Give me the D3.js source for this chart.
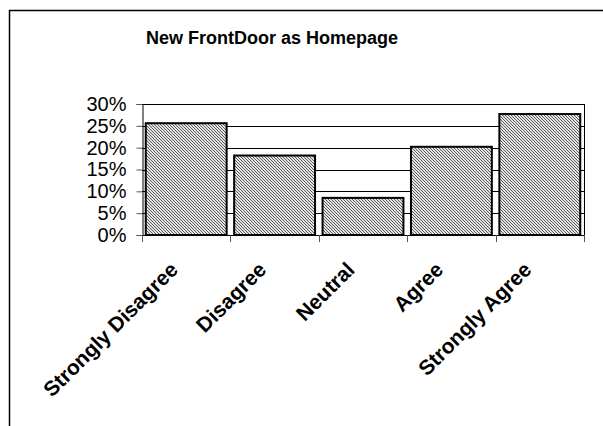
<!DOCTYPE html>
<html>
<head>
<meta charset="utf-8">
<script src="https://cdn.jsdelivr.net/npm/d3@7"></script>
<style>
  html, body { margin: 0; padding: 0; background: #fff; }
  svg { display: block; }
  text { font-family: Arial, "Liberation Sans", sans-serif; fill: #000; }
</style>
</head>
<body>
<svg id="chart" width="603" height="426"></svg>
<script>
// Survey responses: share of respondents per answer
const chartTitle = "New FrontDoor as Homepage";
const categories = ["Strongly Disagree", "Disagree", "Neutral", "Agree", "Strongly Agree"];
const shares = [0.256, 0.182, 0.085, 0.202, 0.277];
const yTicks = [0, 0.05, 0.10, 0.15, 0.20, 0.25, 0.30];

const svg = d3.select("#chart");

// outer frame (top and left edges visible)
svg.append("path")
  .attr("d", "M9.5,426 L9.5,10.5 L603,10.5")
  .attr("fill", "none")
  .attr("stroke", "#000")
  .attr("stroke-width", 1.5);

// diagonal hatch fill for the bars
const defs = svg.append("defs");
const pat = defs.append("pattern")
  .attr("id", "hatch")
  .attr("patternUnits", "userSpaceOnUse")
  .attr("width", 3).attr("height", 3);
pat.append("rect").attr("width", 3).attr("height", 3).attr("fill", "#e2e2e2");
pat.append("path")
  .attr("d", "M-1,-1 L4,4 M2,-1 L4,1 M-1,2 L1,4")
  .attr("stroke", "#505050")
  .attr("stroke-width", 0.9);

const plot = { left: 142, right: 584, top: 104, bottom: 235 };

const x = d3.scaleBand()
  .domain(categories)
  .range([plot.left, plot.right])
  .paddingInner(0.085)
  .paddingOuter(0.0425);

const y = d3.scaleLinear()
  .domain([0, 0.30])
  .range([plot.bottom, plot.top]);

// title
svg.append("text")
  .attr("x", 272)
  .attr("y", 44)
  .attr("text-anchor", "middle")
  .attr("font-weight", "bold")
  .attr("font-size", 18)
  .text(chartTitle);

// horizontal gridlines
svg.append("g")
  .selectAll("line")
  .data(yTicks.filter(d => d > 0))
  .join("line")
  .attr("x1", plot.left).attr("x2", plot.right)
  .attr("y1", d => Math.round(y(d)) + 0.5)
  .attr("y2", d => Math.round(y(d)) + 0.5)
  .attr("stroke", "#000")
  .attr("stroke-width", 1);

// right edge of the plot area
svg.append("line")
  .attr("x1", plot.right + 0.5).attr("x2", plot.right + 0.5)
  .attr("y1", plot.top).attr("y2", plot.bottom)
  .attr("stroke", "#000");

// y axis
const yAxis = d3.axisLeft(y)
  .tickValues(yTicks)
  .tickFormat(d3.format(".0%"))
  .tickSize(6)
  .tickPadding(10);
const gy = svg.append("g")
  .attr("transform", `translate(${plot.left + 0.5},0)`)
  .call(yAxis);
gy.select(".domain").attr("stroke", "#000");
gy.selectAll(".tick line").attr("stroke", "#555");
gy.selectAll(".tick text")
  .attr("font-size", 20)
  .attr("font-family", "Arial, 'Liberation Sans', sans-serif")
  .attr("fill", "#000");

// bars
svg.append("g")
  .selectAll("rect")
  .data(categories.map((c, i) => ({ c, v: shares[i] })))
  .join("rect")
  .attr("x", d => x(d.c))
  .attr("y", d => y(d.v))
  .attr("width", x.bandwidth())
  .attr("height", d => y(0) - y(d.v))
  .attr("fill", "url(#hatch)")
  .attr("stroke", "#000")
  .attr("stroke-width", 2);

// x axis line and category separator ticks
svg.append("line")
  .attr("x1", plot.left).attr("x2", plot.right)
  .attr("y1", plot.bottom + 0.5).attr("y2", plot.bottom + 0.5)
  .attr("stroke", "#000");
const edges = d3.range(categories.length + 1).map(i => plot.left + i * x.step());
svg.append("g")
  .selectAll("line")
  .data(edges)
  .join("line")
  .attr("x1", d => Math.round(d) + 0.5).attr("x2", d => Math.round(d) + 0.5)
  .attr("y1", plot.bottom).attr("y2", plot.bottom + 7)
  .attr("stroke", "#555");

// rotated category labels
svg.append("g")
  .selectAll("text")
  .data(categories)
  .join("text")
  .attr("transform", d => `translate(${x(d) + x.bandwidth() / 2 - 7},${plot.bottom + 36}) rotate(-45)`)
  .attr("text-anchor", "end")
  .attr("font-weight", "bold")
  .attr("font-size", 21)
  .text(d => d);
</script>
</body>
</html>
